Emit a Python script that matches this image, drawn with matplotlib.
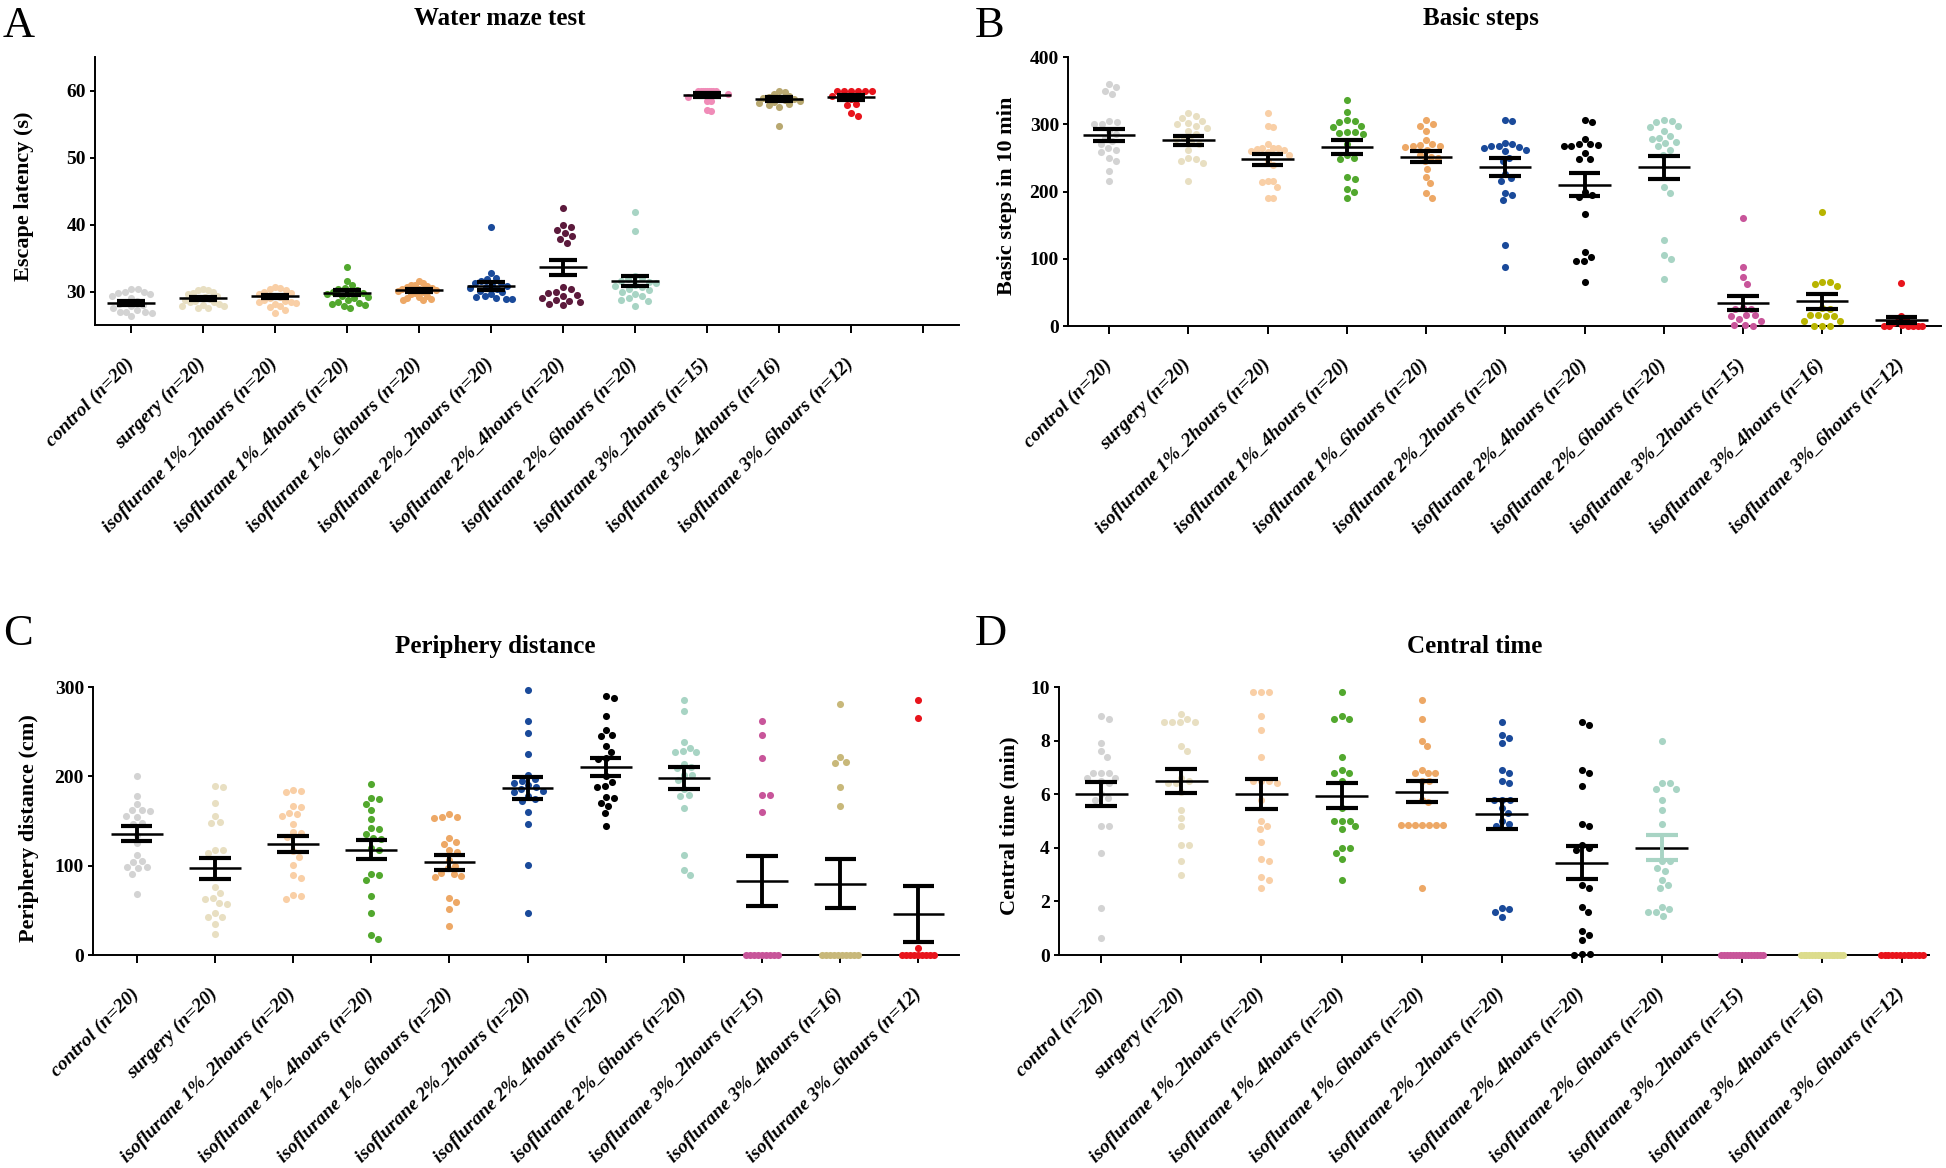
import numpy as np
import matplotlib.pyplot as plt

plt.rcParams['font.family'] = ['Liberation Serif', 'DejaVu Serif']

W, H = 1946, 1168

groups = ['control (n=20)', 'surgery (n=20)',
          'isoflurane 1%_2hours (n=20)', 'isoflurane 1%_4hours (n=20)',
          'isoflurane 1%_6hours (n=20)', 'isoflurane 2%_2hours (n=20)',
          'isoflurane 2%_4hours (n=20)', 'isoflurane 2%_6hours (n=20)',
          'isoflurane 3%_2hours (n=15)', 'isoflurane 3%_4hours (n=16)',
          'isoflurane 3%_6hours (n=12)']

# A: escape latency (s)
water_maze = [
    [30.3, 30.3, 30.0, 30.0, 29.8, 29.6, 29.3, 29.0, 28.6, 28.4, 28.2, 28.0, 27.8, 27.5, 27.3, 27.0, 26.9, 26.9, 26.8, 26.3],
    [30.3, 30.2, 30.2, 30.0, 29.8, 29.6, 29.4, 29.2, 29.0, 28.9, 28.8, 28.6, 28.5, 28.4, 28.2, 28.0, 27.9, 27.8, 27.6, 27.6],
    [30.6, 30.5, 30.3, 30.2, 30.0, 29.8, 29.6, 29.4, 29.2, 29.0, 28.8, 28.6, 28.5, 28.4, 28.3, 28.1, 27.9, 27.7, 27.2, 26.8],
    [33.6, 31.6, 31.0, 30.5, 30.4, 30.2, 30.0, 29.9, 29.8, 29.6, 29.4, 29.2, 29.0, 28.8, 28.5, 28.3, 28.2, 28.0, 27.8, 27.5],
    [31.6, 31.2, 31.0, 30.9, 30.8, 30.6, 30.5, 30.4, 30.3, 30.2, 30.1, 30.0, 29.8, 29.6, 29.4, 29.2, 29.0, 28.9, 28.8, 28.7],
    [39.7, 32.7, 32.0, 31.8, 31.5, 31.3, 31.2, 31.0, 30.8, 30.6, 30.5, 30.3, 30.1, 29.9, 29.6, 29.3, 29.2, 29.0, 28.9, 28.9],
    [42.4, 40.0, 39.6, 39.2, 38.8, 38.3, 37.8, 37.3, 30.6, 30.3, 30.0, 29.8, 29.5, 29.3, 29.0, 28.8, 28.6, 28.4, 28.2, 28.0],
    [41.8, 39.0, 32.3, 32.0, 31.8, 31.6, 31.4, 31.2, 31.0, 30.8, 30.6, 30.4, 30.2, 30.0, 29.6, 29.4, 29.0, 28.8, 28.6, 27.9],
    [60, 60, 60, 60, 60, 60, 60, 60, 60, 59.5, 59.0, 58.5, 58.4, 57.1, 57.0],
    [60.0, 59.8, 59.5, 59.2, 59.0, 58.9, 58.8, 58.7, 58.6, 58.5, 58.3, 58.2, 58.0, 57.8, 57.5, 54.7],
    [60, 60, 60, 60, 60, 60, 59.2, 58.8, 58.0, 57.8, 56.6, 56.2],
]
water_mean = [28.25, 29.0, 29.3, 29.8, 30.2, 30.8, 33.6, 31.6, 59.4, 58.8, 59.0]
water_sem = [0.3, 0.2, 0.25, 0.35, 0.2, 0.55, 1.1, 0.75, 0.3, 0.3, 0.35]

# B: basic steps in 10 min
basic_steps = [
    [360, 355, 350, 345, 305, 303, 300, 300, 290, 285, 280, 275, 270, 265, 262, 258, 250, 245, 230, 215],
    [316, 312, 310, 305, 302, 300, 298, 295, 290, 285, 280, 278, 275, 270, 262, 250, 248, 245, 242, 216],
    [316, 298, 296, 270, 265, 265, 264, 263, 262, 260, 258, 255, 245, 240, 216, 215, 214, 206, 190, 190],
    [336, 318, 306, 305, 303, 298, 296, 289, 288, 287, 285, 270, 255, 250, 248, 221, 219, 204, 199, 190],
    [306, 300, 298, 290, 277, 270, 269, 268, 267, 266, 262, 255, 252, 250, 245, 234, 222, 212, 198, 190],
    [306, 305, 272, 270, 268, 267, 266, 265, 262, 260, 250, 245, 226, 220, 216, 198, 195, 187, 120, 87],
    [306, 304, 278, 270, 270, 269, 268, 268, 257, 248, 248, 200, 195, 192, 167, 110, 103, 97, 97, 66],
    [307, 305, 303, 298, 296, 290, 282, 280, 278, 274, 272, 268, 262, 255, 206, 198, 128, 105, 100, 70],
    [160, 87, 73, 63, 27, 26, 25, 16, 16, 15, 10, 8, 2, 1, 0],
    [170, 66, 65, 62, 60, 27, 25, 17, 16, 15, 15, 8, 7, 0, 0, 0],
    [64, 15, 10, 8, 5, 2, 0, 0, 0, 0, 0, 0],
]
steps_mean = [284, 276, 248, 266, 252, 236, 210, 236, 34, 37, 8.5]
steps_sem = [9.5, 6.5, 8, 10, 7.5, 13.5, 17, 17, 10.5, 11, 4.5]

# C: periphery distance (cm)
periphery = [
    [200, 178, 169, 162, 162, 161, 156, 155, 148, 147, 134, 125, 112, 105, 104, 98, 98, 97, 91, 68],
    [189, 188, 170, 156, 149, 148, 118, 117, 114, 76, 69, 64, 63, 58, 57, 47, 43, 42, 35, 24],
    [185, 184, 182, 167, 166, 159, 158, 156, 147, 138, 137, 132, 116, 110, 101, 89, 86, 67, 66, 63],
    [191, 176, 175, 169, 162, 152, 142, 141, 135, 131, 130, 120, 118, 91, 90, 84, 66, 47, 22, 18],
    [158, 155, 154, 153, 131, 126, 124, 117, 115, 106, 100, 97, 92, 91, 88, 87, 64, 59, 52, 32],
    [297, 262, 249, 225, 201, 197, 195, 192, 190, 188, 186, 184, 182, 178, 175, 172, 160, 147, 101, 47],
    [290, 288, 267, 252, 246, 245, 234, 227, 220, 219, 200, 194, 189, 188, 177, 176, 170, 167, 159, 144],
    [286, 273, 238, 232, 228, 227, 227, 214, 210, 209, 202, 201, 196, 186, 179, 178, 164, 112, 95, 89],
    [262, 246, 221, 179, 179, 160, 0, 0, 0, 0, 0, 0, 0, 0, 0],
    [281, 222, 216, 215, 188, 167, 0, 0, 0, 0, 0, 0, 0, 0, 0, 0],
    [285, 265, 8, 0, 0, 0, 0, 0, 0, 0, 0, 0],
]
periph_mean = [136, 97, 124, 118, 104, 187, 210, 198, 83, 80, 46]
periph_sem = [8.7, 12, 9, 11, 8.5, 12, 10, 12, 28, 27.5, 31]

# D: central time (min)
central = [
    [8.9, 8.8, 7.9, 7.6, 7.4, 6.8, 6.8, 6.8, 6.6, 6.6, 6.5, 6.4, 6.0, 5.85, 5.8, 4.8, 4.8, 3.8, 1.75, 0.65],
    [9.0, 8.8, 8.7, 8.7, 8.7, 8.7, 7.8, 7.6, 6.6, 6.5, 6.4, 6.4, 6.1, 5.4, 5.1, 4.8, 4.1, 4.1, 3.5, 3.0],
    [9.8, 9.8, 9.8, 8.9, 8.4, 7.4, 6.5, 6.5, 6.5, 6.4, 5.8, 5.0, 4.8, 4.7, 4.2, 3.6, 3.5, 2.9, 2.8, 2.5],
    [9.8, 8.9, 8.8, 8.8, 7.4, 6.9, 6.8, 6.8, 6.5, 5.5, 5.0, 5.0, 5.0, 4.8, 4.7, 4.0, 4.0, 3.8, 3.6, 2.8],
    [9.5, 8.8, 8.0, 7.8, 6.9, 6.8, 6.8, 6.8, 6.5, 6.5, 5.8, 5.7, 4.85, 4.85, 4.85, 4.85, 4.85, 4.85, 4.85, 2.5],
    [8.7, 8.2, 8.1, 7.9, 6.9, 6.8, 6.5, 6.4, 5.8, 5.8, 5.8, 5.5, 5.3, 5.0, 4.9, 4.8, 1.75, 1.7, 1.6, 1.4],
    [8.7, 8.6, 6.9, 6.8, 6.3, 4.9, 4.8, 4.1, 4.0, 3.9, 2.6, 2.5, 1.8, 1.6, 0.9, 0.75, 0.55, 0.05, 0.05, 0.0],
    [8.0, 6.4, 6.4, 6.2, 6.2, 5.8, 5.4, 4.9, 3.5, 3.5, 3.25, 3.15, 2.8, 2.6, 2.5, 1.8, 1.7, 1.6, 1.6, 1.45],
    [0] * 15,
    [0] * 16,
    [0] * 12,
]
central_mean = [6.0, 6.5, 6.0, 5.95, 6.1, 5.25, 3.45, 4.0, 0, 0, 0]
central_sem = [0.45, 0.45, 0.55, 0.45, 0.4, 0.53, 0.62, 0.46, 0, 0, 0]

base_cols = ['#d3d3d3', '#e8dfc2', '#f9cfa6', '#52a82e', '#eda866', '#1a4a9a',
             '#000000', '#a8d4c4', '#c8559a', '#c8b87a', '#e8141c']
cols_a = base_cols[:6] + ['#5c1a3c', '#a8d4c4', '#f08cb8', '#b8a870', '#e8141c']
cols_b = base_cols[:9] + ['#b8b400', '#e8141c']
cols_d = base_cols[:9] + ['#dcdc8c', '#e8141c']


def swarm_x(ax, pos, vals, d=8.0, maxw=21.0):
    # simple beeswarm in pixel space
    tr = ax.transData
    vals = np.asarray(vals, float)
    ys = tr.transform(np.column_stack([np.full(len(vals), pos), vals]))[:, 1]
    sx = tr.transform((1, 0))[0] - tr.transform((0, 0))[0]
    xs = np.zeros(len(vals))
    placed = []
    for i in np.argsort(-ys, kind='stable'):
        y = ys[i]
        cands = [0.0]
        for px, py in placed:
            dy = abs(py - y)
            if dy < d:
                dx = np.sqrt(d * d - dy * dy)
                cands += [px + dx, px - dx]
        cands.sort(key=abs)
        for c in cands:
            if all((c - px) ** 2 + (y - py) ** 2 >= d * d - 1e-6 for px, py in placed):
                break
        placed.append((c, y))
        xs[i] = c
    # long rows of equal values get squeezed into a solid band
    for v in np.unique(vals):
        idx = np.where(vals == v)[0]
        if len(idx) >= 9:
            half = min(2.0 * (len(idx) - 1), maxw)
            xs[idx] = np.linspace(-half, half, len(idx))
    m = np.abs(xs).max()
    if m > maxw:
        xs *= maxw / m
    return pos + xs / sx


def panel(rect, data, means, sems, cols, ylim, yticks, xlim, nticks, ylabel,
          ylab_px, bar_cols=None):
    ax = fig.add_axes(rect)
    ax.set_xlim(*xlim)
    ax.set_ylim(*ylim)
    for s in ['top', 'right']:
        ax.spines[s].set_visible(False)
    for s in ['left', 'bottom']:
        ax.spines[s].set_linewidth(1.4)
    for i, vals in enumerate(data):
        x = swarm_x(ax, i, vals)
        ax.scatter(x, vals, s=26, color=cols[i], linewidths=0, zorder=3, clip_on=False)
    for i, (m, e) in enumerate(zip(means, sems)):
        if e <= 0:
            continue
        bc = bar_cols[i] if bar_cols else 'black'
        ax.hlines(m, i - 0.33, i + 0.33, color='black', lw=1.8, zorder=4)
        ax.vlines(i, m - e, m + e, color=bc, lw=2.8, zorder=4)
        ax.hlines([m - e, m + e], i - 0.2, i + 0.2, color=bc, lw=3.0, zorder=4)
    ax.set_yticks(yticks, [str(t) for t in yticks], fontsize=14, fontweight='bold')
    labels = groups + [''] * (nticks - len(groups))
    ax.set_xticks(range(nticks), labels, rotation=45, ha='right', va='center',
                  rotation_mode='anchor', fontsize=14, fontweight='bold',
                  fontstyle='italic')
    ax.tick_params(axis='y', length=3.5, width=1.4, pad=3)
    ax.tick_params(axis='x', length=6, width=1.4, pad=20)
    ax.set_ylabel(ylabel, fontsize=16, fontweight='bold')
    bb = ax.get_position()
    lx = (ylab_px[0] / W - bb.x0) / bb.width
    ly = ((1 - ylab_px[1] / H) - bb.y0) / bb.height
    ax.yaxis.set_label_coords(lx, ly)
    return ax


fig = plt.figure(figsize=(W / 100, H / 100), dpi=100)

panel([95 / W, 1 - 325 / H, 864 / W, 268 / H], water_maze, water_mean, water_sem,
      cols_a, (25, 65), [30, 40, 50, 60], (-0.5, 11.5), 12,
      'Escape latency (s)', (34, 196))
panel([1068 / W, 1 - 326 / H, 873 / W, 269 / H], basic_steps, steps_mean, steps_sem,
      cols_b, (0, 400), [0, 100, 200, 300, 400], (-0.52, 10.5), 11,
      'Basic steps in 10 min', (1017, 196))
panel([93 / W, 1 - 955 / H, 866 / W, 268 / H], periphery, periph_mean, periph_sem,
      base_cols, (0, 300), [0, 100, 200, 300], (-0.56, 10.52), 11,
      'Periphery distance (cm)', (39, 828))
bar_d = ['black'] * 7 + ['#a8d4c4'] + ['black'] * 3
panel([1059 / W, 1 - 955 / H, 870 / W, 268 / H], central, central_mean, central_sem,
      cols_d, (0, 10), [0, 2, 4, 6, 8, 10], (-0.53, 10.34), 11,
      'Central time (min)', (1019, 826), bar_cols=bar_d)

# panel titles and letters
titles = [('Water maze test', 500, 25), ('Basic steps', 1481, 25),
          ('Periphery distance', 495, 653), ('Central time', 1475, 653)]
for t, x, y in titles:
    fig.text(x / W, 1 - y / H, t, ha='center', va='baseline', fontsize=18,
             fontweight='bold')
letters = [('A', 3, 37), ('B', 975, 37), ('C', 3, 645), ('D', 975, 645)]
for t, x, y in letters:
    fig.text(x / W, 1 - y / H, t, ha='left', va='baseline', fontsize=32)

fig.savefig('out.png', dpi=100)
